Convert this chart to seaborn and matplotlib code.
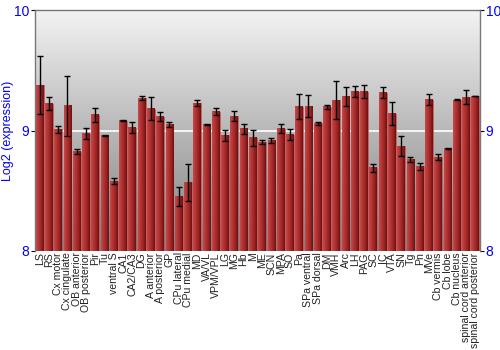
import numpy as np
import pandas as pd
import seaborn as sns
import matplotlib
matplotlib.use("Agg")
import matplotlib.pyplot as plt
from matplotlib.colors import LinearSegmentedColormap

regions = ["LS", "RS", "Cx motor", "Cx cingulate", "OB anterior", "OB posterior", "Pir", "Tu",
           "ventral S", "CA1", "CA2/CA3", "DG", "A anterior", "A posterior", "GP", "CPu lateral",
           "CPu medial", "MD", "VA/VL", "VPM/VPL", "LG", "MG", "Hb", "M", "ME", "SCN", "MPA", "SO",
           "Pa", "SPa ventral", "SPa dorsal", "DM", "VMH", "Arc", "LH", "PAG", "SC", "IC", "VTA",
           "SN", "Tg", "Pn", "MVe", "Cb vermis", "Cb lobe", "Cb nucleus", "spinal cord anterior",
           "spinal cord posterior"]
expression = [9.378, 9.224, 9.011, 9.207, 8.823, 8.975, 9.133, 8.956,
              8.580, 9.080, 9.025, 9.268, 9.182, 9.113, 9.047, 8.450,
              8.569, 9.227, 9.052, 9.157, 8.959, 9.119, 9.014, 8.939, 8.903, 8.917, 9.017, 8.967,
              9.199, 9.204, 9.061, 9.199, 9.254, 9.285, 9.323, 9.323, 8.690, 9.315, 9.141,
              8.870, 8.760, 8.702, 9.257, 8.779, 8.854, 9.254, 9.279,
              9.287]
error = [0.24, 0.054, 0.03, 0.25, 0.02, 0.044, 0.058, 0.005,
         0.025, 0.004, 0.048, 0.017, 0.095, 0.037, 0.02, 0.08,
         0.15, 0.026, 0.004, 0.03, 0.048, 0.04, 0.042, 0.069, 0.015, 0.02, 0.036, 0.047,
         0.106, 0.091, 0.011, 0.017, 0.157, 0.08, 0.046, 0.052, 0.032, 0.044, 0.095,
         0.083, 0.024, 0.027, 0.043, 0.026, 0.004, 0.004, 0.058,
         0.004]
y_ticks = [8, 9, 10]

df = pd.DataFrame({"region": regions, "expr": expression, "err": error})

sns.set_theme(style="white")
plt.rcParams["font.family"] = ["Liberation Sans", "DejaVu Sans"]

YMIN, YMAX = 8, 10
fig = plt.figure(figsize=(5, 3.5), dpi=100)
ax = fig.add_axes([0.07, 0.283, 0.89, 0.688])

sns.barplot(data=df, x="region", y="expr", color="#b03030", width=0.84, ax=ax,
            saturation=1, edgecolor="#c86060", linewidth=0.5, zorder=2)
ax.set_xlim(-0.5, len(regions) - 0.5)
ax.set_ylim(YMIN, YMAX)

# background gradient (dark at bottom, light at top)
grad = np.linspace(0, 1, 256).reshape(-1, 1)
bg_cmap = LinearSegmentedColormap.from_list("bg", ["#808080", "#b8b8b8", "#f3f3f3"])
ax.imshow(grad, aspect="auto", cmap=bg_cmap, origin="lower",
          extent=[-0.5, len(regions) - 0.5, YMIN, YMAX], zorder=0, interpolation="bilinear")
ax.axhline(9, color="white", lw=1.2, zorder=0.5)

# horizontal shading inside each bar
bar_cmap = LinearSegmentedColormap.from_list("bar", ["#c44a4a", "#b53434", "#9a2424", "#6e1010"])
hgrad = np.linspace(0, 1, 64).reshape(1, -1)
for p in ax.patches:
    x0, w = p.get_x(), p.get_width()
    top = p.get_y() + p.get_height()
    ax.imshow(hgrad, aspect="auto", cmap=bar_cmap, origin="lower",
              extent=[x0, x0 + w, YMIN, top], zorder=2.5, interpolation="bilinear")

ax.errorbar(np.arange(len(regions)), df["expr"], yerr=df["err"], fmt="none",
            ecolor="black", elinewidth=1, capsize=2.2, capthick=1, zorder=4)

ax.set_xlim(-0.5, len(regions) - 0.5)
ax.set_ylim(YMIN, YMAX)
ax.set_yticks(y_ticks)
ax.set_yticklabels([str(t) for t in y_ticks], color="blue", fontsize=10)
ax.tick_params(axis="y", which="both", left=True, right=True, labelright=True,
               length=3, width=0.8, color="black", pad=1)
ax.set_xticks(np.arange(len(regions)))
ax.set_xticklabels(regions, rotation=90, fontsize=7.6, color="#222222")
ax.tick_params(axis="x", length=0, pad=1)
ax.set_xlabel("")
ax.set_ylabel("Log2 (expression)", color="blue", fontsize=9, labelpad=0)
for s in ax.spines.values():
    s.set_color("#777777")
    s.set_linewidth(1)
ax.spines["bottom"].set_visible(False)

fig.savefig("out.png", dpi=100)
